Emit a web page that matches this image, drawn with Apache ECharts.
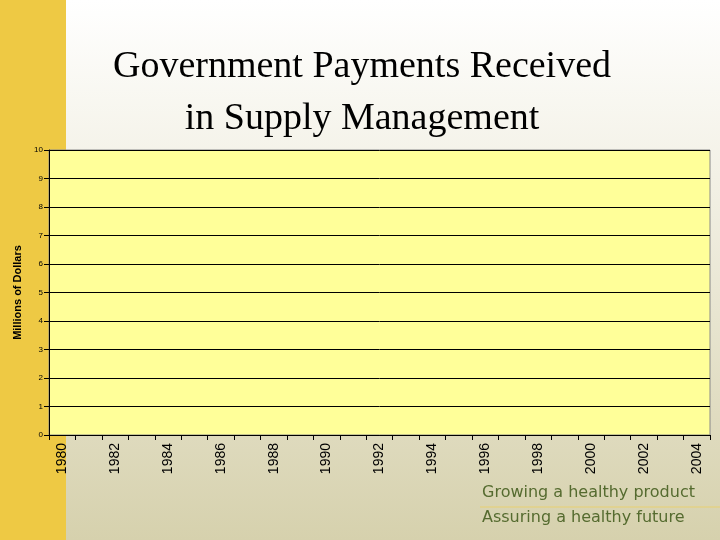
<!DOCTYPE html>
<html><head><meta charset="utf-8">
<script src="https://cdn.jsdelivr.net/npm/echarts@6/dist/echarts.min.js"></script>
<style>html,body{margin:0;padding:0}#c{width:720px;height:540px}</style>
</head><body><div id="c"></div>
<script>
const years = ['1980','1981','1982','1983','1984','1985','1986','1987','1988','1989','1990','1991','1992','1993','1994','1995','1996','1997','1998','1999','2000','2001','2002','2003','2004'];
const payments = years.map(() => null); // no data shown in reference
const yTicks = [0,1,2,3,4,5,6,7,8,9,10];
const chart = echarts.init(document.getElementById('c'));
chart.setOption({
  animation:false,
  graphic:[
    {type:'rect',z:-10,shape:{x:0,y:0,width:720,height:540},style:{fill:new echarts.graphic.LinearGradient(0,0,0,1,[{offset:0,color:'#ffffff'},{offset:0.35,color:'#f2f0e4'},{offset:1,color:'#d6d1ad'}])}},
    {type:'rect',z:-9,shape:{x:0,y:0,width:66,height:540},style:{fill:'#eec944'}},
    {type:'text',x:362,y:48,style:{text:'Government Payments Received',font:'38px "Liberation Serif", serif',fill:'#000',textAlign:'center'}},
    {type:'text',x:362,y:100,style:{text:'in Supply Management',font:'38px "Liberation Serif", serif',fill:'#000',textAlign:'center'}},
    {type:'text',x:482,y:485,style:{text:'Growing a healthy product',font:'16px "DejaVu Sans", sans-serif',fill:'#556b2f'}},
    {type:'line',shape:{x1:480,y1:507,x2:720,y2:507},style:{stroke:'#e8d070',lineWidth:1}},
    {type:'text',x:482,y:510,style:{text:'Assuring a healthy future',font:'16px "DejaVu Sans", sans-serif',fill:'#556b2f'}}
  ],
  grid:{left:49,right:10,top:150,bottom:105,show:true,backgroundColor:'#ffff99',borderColor:'#888',borderWidth:1},
  xAxis:{type:'category',data:years,boundaryGap:true,
    axisLine:{lineStyle:{color:'#000'}},axisTick:{show:true,interval:0,lineStyle:{color:'#000'}},
    axisLabel:{interval:1,rotate:90,color:'#000',fontSize:14,fontFamily:'Liberation Sans, Arial',margin:8}},
  yAxis:{type:'value',min:0,max:10,interval:1,name:'Millions of Dollars',nameLocation:'middle',nameGap:24,
    nameTextStyle:{fontSize:11,fontWeight:'bold',color:'#000',fontFamily:'Liberation Sans, Arial'},
    axisLine:{show:true,lineStyle:{color:'#000'}},axisTick:{show:true,lineStyle:{color:'#000'}},
    axisLabel:{fontSize:8,color:'#000',margin:6,formatter:v=>yTicks.includes(v)?String(v):''},
    splitLine:{lineStyle:{color:'#000',width:1}}},
  series:[{type:'bar',data:payments}]
});
</script></body></html>
